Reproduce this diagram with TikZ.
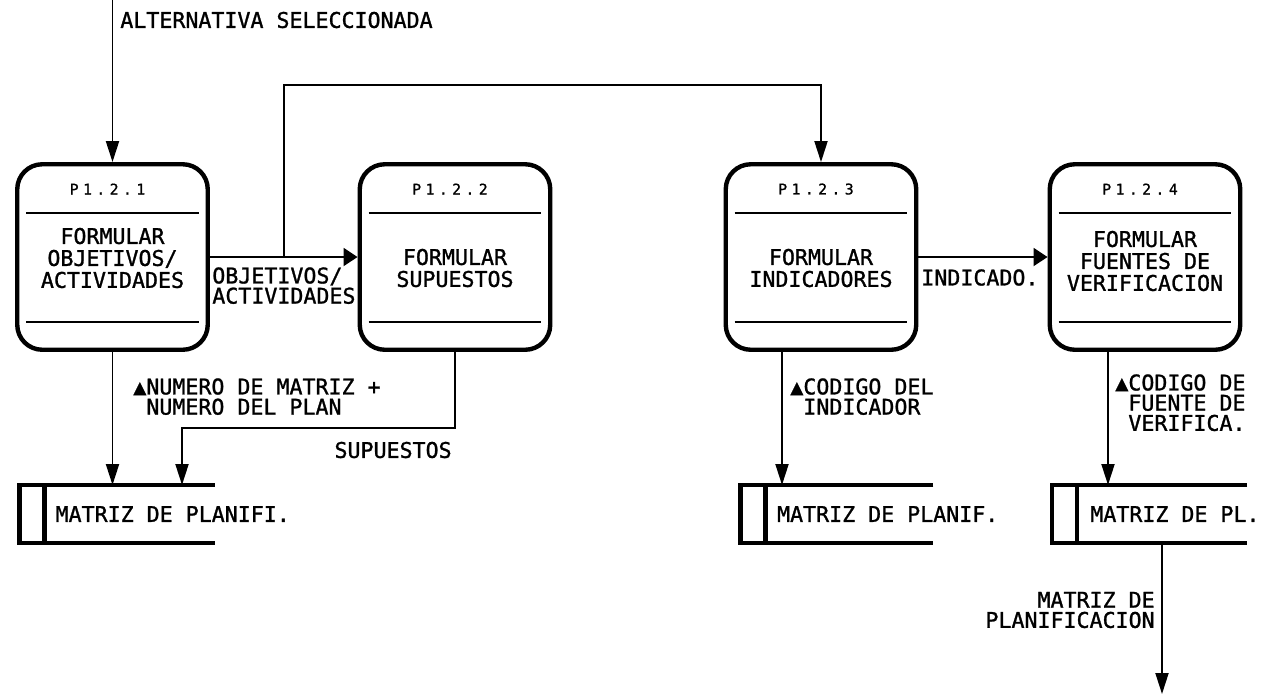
\documentclass[tikz,border=0pt]{standalone}
\usepackage{fontspec}
\newfontfamily\plotfont[FakeBold=1.2]{DejaVu Sans Mono}
\newfontfamily\idfont[LetterSpace=30, FakeBold=1]{DejaVu Sans Mono}
\usetikzlibrary{arrows.meta, positioning, calc}

\begin{document}
\begin{tikzpicture}[
    vflow/.style={-{Triangle[length=0.42cm, width=0.26cm]}, line width=1.1pt}, % vertical data flows
    hflow/.style={-{Triangle[length=0.28cm, width=0.36cm]}, line width=1.1pt}, % horizontal data flows
    proc/.style={draw, line width=2.5pt, rounded corners=0.5cm, minimum width=3.81cm, minimum height=3.71cm, inner sep=0pt}, % process box
    procid/.style={font=\idfont\fontsize{8.4}{9}\selectfont, inner sep=0pt}, % process number
    proctext/.style={font=\plotfont\fontsize{12.3}{12.5}\selectfont, align=center, inner sep=0pt},
    divider/.style={line width=1.3pt},
    store/.style={minimum height=1.16cm, outer sep=0pt, inner sep=0pt}, % data store (lines drawn below)
    storeline/.style={line width=2.8pt},
    storetext/.style={font=\plotfont\fontsize{12.3}{12.5}\selectfont, anchor=west, inner sep=0pt},
    flowlabel/.style={font=\plotfont\fontsize{12.3}{11.5}\selectfont, align=left, inner sep=0pt}
]
    \useasboundingbox (0,0) rectangle (25.28,-13.90);

    % Processes
    \node[proc] (p1) at (2.25,-5.14) {};
    \node[proc] (p2) at (9.10,-5.14) {};
    \node[proc] (p3) at (16.42,-5.14) {};
    \node[proc] (p4) at (22.90,-5.14) {};

    \node[procid] (p1id) at ($(p1.north)+(-0.1,-0.54)$) {P1.2.1};
    \node[procid] (p2id) at ($(p2.north)+(-0.1,-0.54)$) {P1.2.2};
    \node[procid] (p3id) at ($(p3.north)+(-0.1,-0.54)$) {P1.2.3};
    \node[procid] (p4id) at ($(p4.north)+(-0.1,-0.54)$) {P1.2.4};

    \node[proctext] (p1txt) at ($(p1.center)+(0,-0.02)$) {FORMULAR\\OBJETIVOS/\\ACTIVIDADES};
    \node[proctext] (p2txt) at ($(p2.center)+(0,-0.22)$) {FORMULAR\\SUPUESTOS};
    \node[proctext] (p3txt) at ($(p3.center)+(0,-0.22)$) {FORMULAR\\INDICADORES};
    \node[proctext] (p4txt) at ($(p4.center)+(0,-0.08)$) {FORMULAR\\FUENTES DE\\VERIFICACION};

    \foreach \p in {p1,p2,p3,p4} {
        \draw[divider] ($(\p.north west)+(0.22,-1.02)$) -- ($(\p.north east)+(-0.22,-1.02)$);
        \draw[divider] ($(\p.south west)+(0.22,0.60)$) -- ($(\p.south east)+(-0.22,0.60)$);
    }

    % Data stores
    \node[store, minimum width=3.91cm] (s1) at (2.34,-10.28) {};
    \node[store, minimum width=3.85cm] (s2) at (16.74,-10.28) {};
    \node[store, minimum width=3.90cm] (s3) at (22.99,-10.28) {};

    \foreach \s in {s1,s2,s3} {
        \draw[storeline] (\s.north east) -- (\s.north west) -- (\s.south west) -- (\s.south east);
        \draw[storeline] ($(\s.north west)+(0.5,0)$) -- ($(\s.south west)+(0.5,0)$);
    }

    \node[storetext] (s1txt) at ($(s1.west)+(0.72,0)$) {MATRIZ DE PLANIFI.};
    \node[storetext] (s2txt) at ($(s2.west)+(0.72,0)$) {MATRIZ DE PLANIF.};
    \node[storetext] (s3txt) at ($(s3.west)+(0.76,0)$) {MATRIZ DE PL.};

    % Flows
    \coordinate (altsrc) at (2.25,0);
    \draw[vflow] (altsrc) -- (p1.north);
    \node[flowlabel, anchor=west] (altlbl) at (2.40,-0.40) {ALTERNATIVA SELECCIONADA};

    \draw[hflow] (p1.east) -- (p2.west);
    \node[flowlabel, anchor=north west] (objlbl) at (4.24,-5.34) {OBJETIVOS/\\ACTIVIDADES};

    \coordinate (split) at (5.68,-5.14);
    \coordinate (toprun) at (5.68,-1.70);
    \draw[vflow] (split) -- (toprun) -| (p3.north);

    \draw[hflow] (p3.east) -- (p4.west);
    \node[flowlabel, anchor=north west] (indlbl) at (18.42,-5.38) {INDICADO.};

    \draw[vflow] (p1.south) -- (p1.south |- s1.north);
    \node[flowlabel, anchor=north west] (numlbl) at (2.66,-7.56) {▲NUMERO DE MATRIZ +\\\hphantom{▲}NUMERO DEL PLAN};

    \coordinate (supbend) at (3.64,-8.56);
    \draw[vflow] (p2.south) |- (supbend) -- (supbend |- s1.north);
    \node[flowlabel, anchor=east] (suplbl) at (9.04,-9.00) {SUPUESTOS};

    \coordinate (p3out) at ($(p3.south)+(-0.78,0)$);
    \draw[vflow] (p3out) -- (p3out |- s2.north);
    \node[flowlabel, anchor=north west] (codlbl) at (15.80,-7.56) {▲CODIGO DEL\\\hphantom{▲}INDICADOR};

    \coordinate (p4out) at ($(p4.south)+(-0.74,0)$);
    \draw[vflow] (p4out) -- (p4out |- s3.north);
    \node[flowlabel, anchor=north west] (fuelbl) at (22.30,-7.48) {▲CODIGO DE\\\hphantom{▲}FUENTE DE\\\hphantom{▲}VERIFICA.};

    \coordinate (s3out) at ($(s3.south)+(0.25,0)$);
    \coordinate (matout) at (23.24,-13.88);
    \draw[vflow] (s3out) -- (matout);
    \node[flowlabel, anchor=east, align=right] (matlbl) at (23.10,-12.20) {MATRIZ DE\\PLANIFICACION};

\end{tikzpicture}
\end{document}
